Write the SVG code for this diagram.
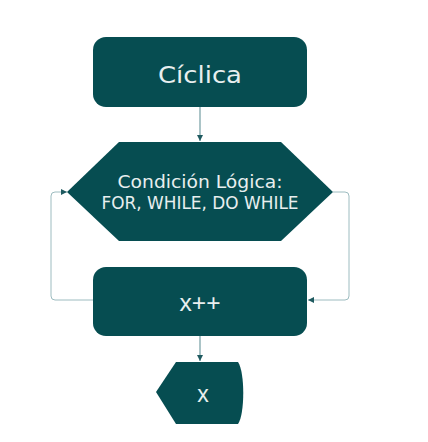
<svg xmlns="http://www.w3.org/2000/svg" width="428" height="442" viewBox="0 0 428 442">
  <defs>
    <style>
      .node { fill: #064d51; }
      .lbl { fill: #e8efef; font-family: "DejaVu Sans", "Liberation Sans", sans-serif; text-anchor: middle; }
      .lbl2 { fill: #e8efef; font-family: "Liberation Sans", Arial, sans-serif; text-anchor: middle; }
      .flow { fill: none; stroke: #8fb0b4; stroke-width: 1.5; }
      .loop { fill: none; stroke: #9dbcc0; stroke-width: 1; }
    </style>
    <marker id="arr" markerUnits="userSpaceOnUse" markerWidth="7" markerHeight="7" refX="6" refY="3.5" orient="auto">
      <path d="M0,0.5 L6,3.5 L0,6.5 Z" fill="#1f5a60"/>
    </marker>
  </defs>
  <rect width="428" height="442" fill="#ffffff"/>
  <g id="connectors">
    <path class="flow" d="M200,107 L200,141" marker-end="url(#arr)"/>
    <path class="flow" d="M200,336 L200,361" marker-end="url(#arr)"/>
    <path class="loop" d="M93,300 L55,300 Q51,300 51,296 L51,196 Q51,192 55,192 L67,192" marker-end="url(#arr)"/>
    <path class="loop" d="M333,192 L345,192 Q349,192 349,196 L349,296 Q349,300 345,300 L308,300" marker-end="url(#arr)"/>
  </g>
  <g id="ciclica">
    <rect class="node" x="93" y="37" width="214" height="70" rx="13"/>
    <text class="lbl" x="200" y="83" font-size="23" textLength="84" lengthAdjust="spacingAndGlyphs">Cíclica</text>
  </g>
  <g id="condicion">
    <polygon class="node" points="67,192 119,142 281,142 333,192 281,241 119,241"/>
    <text class="lbl" x="200" y="188" font-size="18" textLength="165" lengthAdjust="spacingAndGlyphs">Condición Lógica:</text>
    <text class="lbl" x="200" y="209" font-size="17" textLength="197" lengthAdjust="spacingAndGlyphs">FOR, WHILE, DO WHILE</text>
  </g>
  <g id="incremento">
    <rect class="node" x="93" y="267" width="214" height="69" rx="13"/>
    <text class="lbl2" x="200" y="310.5" font-size="24" textLength="41" lengthAdjust="spacingAndGlyphs">x++</text>
  </g>
  <g id="salida">
    <path class="node" d="M156,392 L176,362 L238,362 C245,372 245,414 238,424 L176,424 Z"/>
    <text class="lbl2" x="203" y="402" font-size="23">x</text>
  </g>
</svg>
